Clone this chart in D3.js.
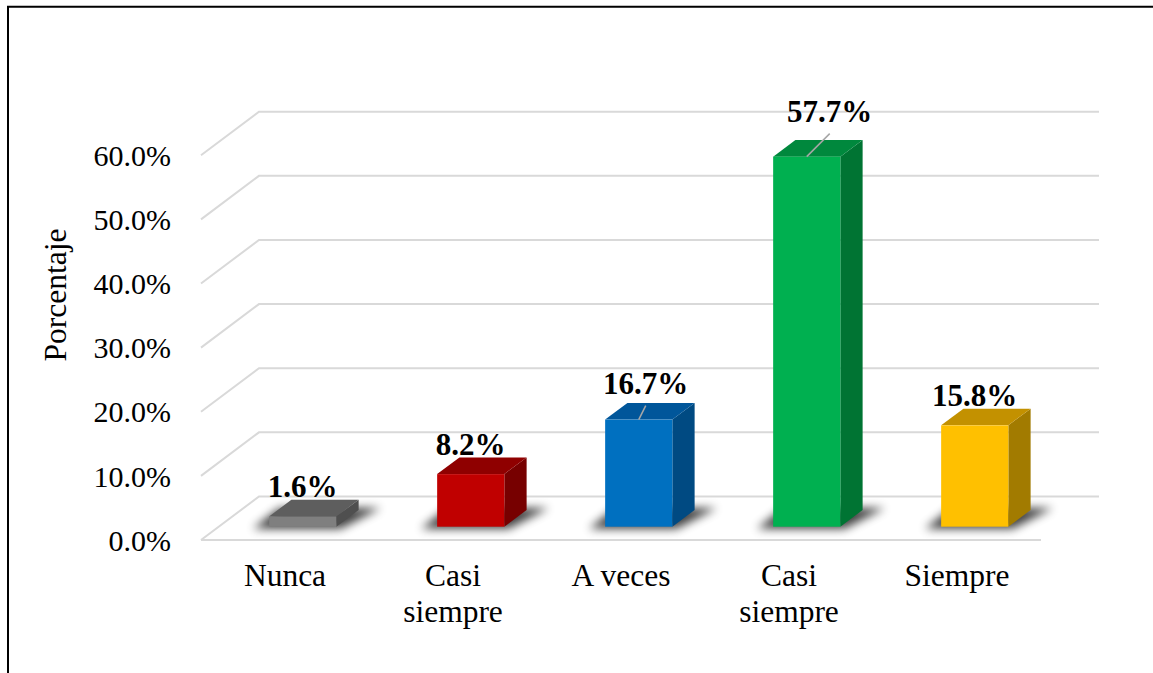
<!DOCTYPE html>
<html>
<head>
<meta charset="utf-8">
<script src="https://cdn.jsdelivr.net/npm/d3@7"></script>
<style>
  html, body { margin: 0; padding: 0; background: #fff; }
  svg { display: block; }
  text { font-family: "Times New Roman", "Liberation Serif", serif; fill: #000; }
</style>
</head>
<body>
<svg id="chart" width="1153" height="673"></svg>
<script>
// Chart data
const categories = ["Nunca", "Casi siempre", "A veces", "Casi siempre ", "Siempre"];
const categoryLines = [["Nunca"], ["Casi", "siempre"], ["A veces"], ["Casi", "siempre"], ["Siempre"]];
const values = [1.6, 8.2, 16.7, 57.7, 15.8];
const tickValues = [0, 10, 20, 30, 40, 50, 60];
const yTitle = "Porcentaje";

// Face colours per bar: front, top, side
const frontColors = ["#7f7f7f", "#c00000", "#0070c0", "#00b050", "#ffc000"];
const topColors   = ["#5e5e5e", "#8f0000", "#00569a", "#00883d", "#c39100"];
const sideColors  = ["#4f4f4f", "#770000", "#004a82", "#007433", "#a27b00"];

const svg = d3.select("#chart");

// Outer frame (top and left edges)
svg.append("path")
  .attr("d", "M8,673 V6.7 H1153")
  .attr("fill", "none").attr("stroke", "#000").attr("stroke-width", 2);

// 3D projection: front plane coordinates + depth offset to the back wall
const depth = { dx: 58, dy: -43.5 };
const barDepth = [0.306, 0.69]; // fraction of floor depth occupied by bars

const x = d3.scaleBand().domain(categories).range([201, 1041])
  .paddingInner(0.6).paddingOuter(0.3);
const y = d3.scaleLinear().domain([0, 60]).range([540, 155.2]);

const at = (px, py, d) => [px + depth.dx * d, py + depth.dy * d];

const defs = svg.append("defs");
defs.append("filter").attr("id", "shadowBlur")
  .attr("x", "-50%").attr("y", "-100%").attr("width", "200%").attr("height", "300%")
  .append("feGaussianBlur").attr("stdDeviation", 5);

// Gridlines: left-wall diagonals and back-wall horizontals
const grid = svg.append("g").attr("stroke", "#d9d9d9").attr("stroke-width", 2).attr("fill", "none");
tickValues.forEach(t => {
  const f = [x.range()[0], y(t)];
  const b = at(f[0], f[1], 1);
  grid.append("path").attr("d", `M${f[0]},${f[1]} L${b[0]},${b[1]} H${at(x.range()[1], 0, 1)[0]}`);
});
// Floor front edge
grid.append("line")
  .attr("x1", x.range()[0]).attr("x2", x.range()[1])
  .attr("y1", y(0)).attr("y2", y(0));

// Tick labels
const yAxis = d3.axisLeft(y).tickValues(tickValues).tickSize(0).tickPadding(0)
  .tickFormat(d => d.toFixed(1) + "%");
const axisG = svg.append("g").attr("transform", "translate(171,0)").call(yAxis);
axisG.select(".domain").remove();
axisG.selectAll("text")
  .attr("font-family", "'Times New Roman', 'Liberation Serif', serif")
  .attr("font-size", 30).attr("fill", "#000").attr("dy", "0.34em");

// Axis title
svg.append("text")
  .attr("transform", "translate(66,295) rotate(-90)")
  .attr("text-anchor", "middle")
  .attr("font-size", 31.5)
  .text(yTitle);

// Category labels
categories.forEach((c, i) => {
  const cx = x(c) + x.bandwidth() / 2;
  const t = svg.append("text").attr("text-anchor", "middle").attr("font-size", 31.5);
  categoryLines[i].forEach((line, j) => {
    t.append("tspan").attr("x", cx).attr("y", 586 + j * 36).text(line);
  });
});

// Bars
const bars = svg.append("g");
categories.forEach((c, i) => {
  const x0 = x(c), x1 = x0 + x.bandwidth();
  const yb = y(0), yt = y(values[i]);
  const [d0, d1] = barDepth;
  const fl = at(x0, yb, d0), fr = at(x1, yb, d0);
  const bl = at(x0, yb, d1), br = at(x1, yb, d1);
  const ftl = at(x0, yt, d0), ftr = at(x1, yt, d0);
  const btl = at(x0, yt, d1), btr = at(x1, yt, d1);

  // Soft floor shadow under the bar
  const pad = 16;
  bars.append("polygon")
    .attr("points", [[fl[0] - pad, fl[1] + 2], [fr[0] + 4, fr[1] + 2], [br[0] + pad + 6, br[1] - 2], [bl[0] - pad + 4, bl[1] - 2]].map(p => p.join(",")).join(" "))
    .attr("fill", "#000").attr("opacity", 0.75)
    .attr("filter", "url(#shadowBlur)");

  // Side face
  bars.append("polygon")
    .attr("points", [fr, br, btr, ftr].map(p => p.join(",")).join(" "))
    .attr("fill", sideColors[i]);
  // Top face
  bars.append("polygon")
    .attr("points", [ftl, ftr, btr, btl].map(p => p.join(",")).join(" "))
    .attr("fill", topColors[i]);
  // Front face
  bars.append("rect")
    .attr("x", ftl[0]).attr("y", ftl[1])
    .attr("width", x.bandwidth()).attr("height", fl[1] - ftl[1])
    .attr("fill", frontColors[i]);
});

// Data labels (some are dragged away from the bar and use a leader line)
const labelShift = [[0, 0], [0, 0], [7, -7], [23, -16], [0, 0]];
categories.forEach((c, i) => {
  const cx = x(c) + x.bandwidth() / 2;
  const top = at(cx, y(values[i]), barDepth[0]);
  const lx = top[0] + labelShift[i][0];
  const ly = top[1] - 19 + labelShift[i][1];
  if (labelShift[i][0] !== 0 || labelShift[i][1] !== 0) {
    svg.append("line")
      .attr("x1", top[0]).attr("y1", top[1])
      .attr("x2", lx).attr("y2", ly + 12)
      .attr("stroke", "#a6a6a6").attr("stroke-width", 1.5);
  }
  svg.append("text")
    .attr("x", lx).attr("y", ly)
    .attr("text-anchor", "middle")
    .attr("font-size", 31).attr("font-weight", "bold")
    .text(values[i].toFixed(1) + "%");
});
</script>
</body>
</html>
